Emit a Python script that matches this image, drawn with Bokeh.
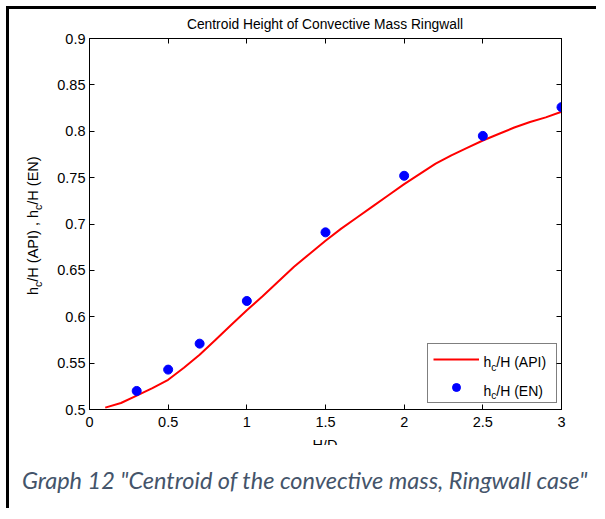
from bokeh.plotting import figure
from bokeh.models import Range1d, FixedTicker, LinearAxis, Legend, LegendItem, Div
from bokeh.layouts import column, row
from bokeh.core.properties import value
from bokeh.embed import file_html
from bokeh.resources import INLINE

# ---- data ----
hd_api = [0.1, 0.2, 0.3, 0.4, 0.5, 0.6, 0.7, 0.8, 0.9, 1.0,
          1.1, 1.2, 1.3, 1.4, 1.5, 1.6, 1.7, 1.8, 1.9, 2.0,
          2.1, 2.2, 2.3, 2.4, 2.5, 2.6, 2.7, 2.8, 2.9, 3.0]
hc_api = [0.502, 0.507, 0.515, 0.523, 0.532, 0.545, 0.559, 0.575, 0.591, 0.607,
          0.622, 0.638, 0.654, 0.668, 0.682, 0.695, 0.707, 0.719, 0.731, 0.743,
          0.754, 0.765, 0.774, 0.782, 0.790, 0.797, 0.804, 0.810, 0.815, 0.821]
hd_en = [0.3, 0.5, 0.7, 1.0, 1.5, 2.0, 2.5, 3.0]
hc_en = [0.520, 0.543, 0.571, 0.617, 0.691, 0.752, 0.795, 0.826]

x_ticks = [0, 0.5, 1, 1.5, 2, 2.5, 3]
x_tick_labels = ["0", "0.5", "1", "1.5", "2", "2.5", "3"]
y_ticks = [0.5, 0.55, 0.6, 0.65, 0.7, 0.75, 0.8, 0.85, 0.9]
y_tick_labels = ["0.5", "0.55", "0.6", "0.65", "0.7", "0.75", "0.8", "0.85", "0.9"]

title_text = "Centroid Height of Convective Mass Ringwall"
x_label = "H/D"
y_label_html = "h<sub>c</sub>/H (API) , h<sub>c</sub>/H (EN)"
legend_names = [("h", "c", "/H (API)"), ("h", "c", "/H (EN)")]
caption = 'Graph 12 "Centroid of the convective mass, Ringwall case"'

FONT = "Liberation Sans"
X0, X1 = 0, 3
Y0, Y1 = 0.5, 0.9
FW, FH = 472, 371

p = figure(width=543, height=404, output_backend="svg", toolbar_location=None,
           x_range=Range1d(X0, X1), y_range=Range1d(Y0, Y1),
           min_border_left=36, min_border_right=35, min_border_top=9, min_border_bottom=24,
           background_fill_color="white", border_fill_alpha=0, margin=0)
p.outline_line_color = "black"
p.grid.visible = False


def style_axis(ax, ticks, labels, show_labels=True):
    ax.ticker = FixedTicker(ticks=ticks)
    ax.major_label_overrides = {t: l for t, l in zip(ticks, labels)}
    ax.minor_tick_line_color = None
    ax.major_tick_in = 5
    ax.major_tick_out = 0
    ax.axis_line_color = "black"
    ax.major_tick_line_color = "black"
    ax.major_label_text_font = FONT
    ax.major_label_text_font_size = "14.5px"
    ax.major_label_text_color = "black"
    if not show_labels:
        ax.major_label_text_font_size = "0px"
        ax.major_label_text_color = None
        ax.major_label_standoff = 0


style_axis(p.xaxis[0], x_ticks, x_tick_labels)
p.xaxis[0].major_label_standoff = 7
style_axis(p.yaxis[0], y_ticks, y_tick_labels)
p.yaxis[0].major_label_standoff = 4

top_ax = LinearAxis()
style_axis(top_ax, x_ticks, x_tick_labels, show_labels=False)
p.add_layout(top_ax, "above")
right_ax = LinearAxis()
style_axis(right_ax, y_ticks, y_tick_labels, show_labels=False)
p.add_layout(right_ax, "right")

r_api = p.line(hd_api, hc_api, line_color="#ff0000", line_width=2)
r_en = p.scatter(hd_en, hc_en, size=9, fill_color="#0000ff", line_color="#0000ff")

legend = Legend(items=[LegendItem(label=" ", renderers=[r_api]),
                       LegendItem(label=" ", renderers=[r_en])],
                location=(338, 6), padding=5, spacing=8, margin=0,
                glyph_height=20, glyph_width=46, label_height=20, label_width=67,
                label_standoff=5, label_text_font_size="8px",
                border_line_color="black", border_line_width=1,
                background_fill_alpha=0)
p.add_layout(legend, "center")


# legend texts (with subscript c) drawn as text glyphs, placed by pixel offsets in the frame
def px_to_x(px):
    return X0 + px * (X1 - X0) / FW


def px_to_y(py):
    return Y0 + py * (Y1 - Y0) / FH


for (h, c, tail), base in zip(legend_names, [47.3, 19.0]):
    lx = 394
    for txt, dx, dy, size in [(h, 0, 0, 14), (c, 0.556 * 14, -5, 10), (tail, 0.556 * 14 + 5, 0, 14)]:
        p.text(x=[px_to_x(lx + dx)], y=[px_to_y(base + dy)], text=[txt],
               text_font=value(FONT), text_font_size=value(f"{size}px"),
               text_color="black", text_align="left", text_baseline="alphabetic")

title_div = Div(text=f'<div style="position:relative;width:587px;height:20px;overflow:visible;">'
                     f'<div style="position:absolute;left:316px;top:8px;transform:translateX(-50%);'
                     f'white-space:nowrap;font-family:\'{FONT}\';font-size:13.8px;line-height:16px;color:#000;">'
                     f'{title_text}</div></div>',
                width=587, height=20, margin=0)

ylab_div = Div(text=f'<div style="position:relative;width:44px;height:404px;overflow:hidden;">'
                    f'<div style="position:absolute;left:16px;top:266px;transform:rotate(-90deg);'
                    f'transform-origin:left top;white-space:nowrap;font-family:\'{FONT}\';'
                    f'font-size:14.5px;line-height:17px;color:#000;">'
                    + y_label_html.replace("<sub>", '<sub style="font-size:10.5px;vertical-align:-4px;line-height:0;">')
                    + '</div></div>',
               width=44, height=404, margin=0)

xlab_div = Div(text=f'<div style="position:relative;width:587px;height:5px;overflow:hidden;">'
                    f'<div style="position:absolute;left:316px;top:-3px;transform:translateX(-50%);'
                    f'white-space:nowrap;font-family:\'{FONT}\';font-size:14.5px;line-height:17px;color:#000;">'
                    f'{x_label}</div></div>',
               width=587, height=5, margin=0)

cap = Div(text=caption, width=587, height=70, margin=0,
          styles={"font-family": "Lato", "font-style": "italic", "font-size": "23.5px",
                  "color": "#44546a", "padding-left": "13px", "padding-top": "26px",
                  "white-space": "nowrap"})

layout = column(title_div, row(ylab_div, p, spacing=0), xlab_div, cap, spacing=0,
                styles={"border-left": "3px solid black", "border-top": "3px solid black",
                        "margin-left": "6px", "margin-top": "6px"})

open("out.html", "w").write(file_html(layout, INLINE))
